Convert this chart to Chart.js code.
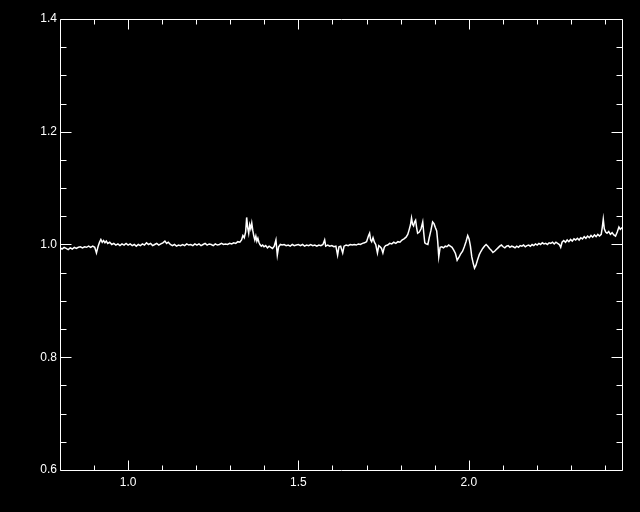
<!DOCTYPE html>
<html>
<head>
<meta charset="utf-8">
<script src="https://cdn.jsdelivr.net/npm/chart.js@4/dist/chart.umd.min.js"></script>
<style>
  html, body { margin: 0; padding: 0; background: #000; }
  #wrap { width: 640px; height: 512px; }
</style>
</head>
<body>
<div id="wrap"><canvas id="c" width="640" height="512"></canvas></div>
<script>
// ---- data ----
const wave = [
0.800,0.806,0.812,0.818,0.824,0.830,0.836,0.842,0.848,0.854,0.860,0.866,0.872,0.878,0.884,0.890,0.896,0.902,0.907,0.912,
0.916,0.920,0.924,0.928,0.932,0.936,0.940,0.946,0.952,0.958,0.964,0.970,0.976,0.982,0.988,0.994,1.000,1.006,1.012,1.018,
1.024,1.030,1.036,1.042,1.048,1.054,1.060,1.066,1.072,1.078,1.084,1.090,1.096,1.102,1.108,1.113,1.118,1.124,1.130,1.136,
1.142,1.148,1.154,1.160,1.166,1.172,1.178,1.184,1.190,1.196,1.202,1.208,1.214,1.220,1.226,1.232,1.238,1.244,1.250,1.256,
1.262,1.268,1.274,1.280,1.286,1.292,1.298,1.304,1.310,1.316,1.322,1.328,1.333,1.337,1.341,1.345,1.348,1.351,1.354,1.357,
1.360,1.363,1.366,1.369,1.372,1.375,1.378,1.381,1.384,1.387,1.391,1.395,1.399,1.404,1.409,1.414,1.419,1.424,1.429,1.434,
1.438,1.442,1.447,1.452,1.458,1.464,1.470,1.476,1.482,1.488,1.494,1.500,1.506,1.512,1.518,1.524,1.530,1.536,1.542,1.548,
1.554,1.560,1.566,1.572,1.577,1.580,1.586,1.592,1.598,1.604,1.610,1.615,1.619,1.624,1.630,1.634,1.640,1.646,1.652,1.658,
1.664,1.670,1.676,1.682,1.688,1.694,1.700,1.706,1.709,1.712,1.715,1.719,1.723,1.727,1.732,1.736,1.740,1.744,1.748,1.752,
1.756,1.762,1.768,1.774,1.780,1.786,1.792,1.798,1.804,1.810,1.816,1.821,1.825,1.829,1.832,1.835,1.838,1.841,1.844,1.847,
1.850,1.855,1.860,1.865,1.868,1.871,1.875,1.880,1.884,1.889,1.894,1.898,1.902,1.906,1.909,1.912,1.916,1.921,1.926,1.931,
1.936,1.941,1.946,1.951,1.956,1.961,1.966,1.971,1.976,1.982,1.987,1.992,1.997,2.001,2.005,2.009,2.013,2.017,2.021,2.026,
2.031,2.036,2.041,2.046,2.051,2.056,2.061,2.066,2.071,2.076,2.081,2.086,2.091,2.096,2.101,2.106,2.111,2.116,2.121,2.126,
2.131,2.136,2.141,2.146,2.151,2.156,2.161,2.166,2.171,2.176,2.181,2.186,2.191,2.196,2.201,2.206,2.211,2.216,2.221,2.226,
2.231,2.236,2.241,2.246,2.251,2.256,2.261,2.266,2.270,2.274,2.279,2.284,2.289,2.294,2.299,2.304,2.309,2.314,2.319,2.324,
2.329,2.334,2.339,2.344,2.349,2.354,2.359,2.364,2.369,2.374,2.379,2.384,2.389,2.392,2.395,2.398,2.402,2.406,2.411,2.416,
2.421,2.426,2.431,2.436,2.441,2.445,2.450
];
const flux = [
0.994,0.992,0.995,0.993,0.991,0.994,0.992,0.995,0.993,0.995,0.996,0.994,0.996,0.995,0.997,0.995,0.997,0.995,0.985,0.997,
1.004,1.009,1.004,1.007,1.003,1.006,1.002,1.004,1.000,1.002,0.999,1.001,0.998,1.001,0.999,1.002,0.999,1.001,0.998,1.000,
0.997,1.000,0.998,1.001,0.999,1.003,1.000,1.002,0.998,1.000,1.002,0.999,1.001,1.003,1.006,1.002,1.004,1.000,0.998,1.000,
0.997,0.999,0.998,1.000,0.998,1.001,0.999,1.000,0.998,1.001,0.999,1.001,0.998,1.000,1.002,0.999,1.001,1.000,0.998,1.001,
0.999,1.000,1.002,1.000,1.001,1.000,1.002,1.001,1.003,1.002,1.005,1.004,1.008,1.016,1.012,1.022,1.048,1.030,1.020,1.035,
1.028,1.038,1.025,1.015,1.008,1.015,1.006,1.011,1.004,1.000,0.997,0.999,0.996,0.998,0.994,0.997,0.995,0.993,0.997,1.008,
0.981,0.996,1.000,0.999,1.000,0.998,0.999,0.997,1.000,0.998,0.999,1.000,0.998,1.000,0.997,0.999,0.998,1.000,0.998,0.999,
0.997,0.999,0.998,1.000,1.008,0.997,0.999,0.997,0.998,0.996,0.997,0.981,0.996,0.997,0.985,0.997,0.999,0.998,1.000,0.999,
1.000,0.999,1.001,1.000,1.002,1.003,1.005,1.016,1.020,1.008,1.005,1.012,1.004,1.000,0.985,0.998,0.996,0.993,0.985,0.995,
0.998,0.999,1.002,1.001,1.004,1.002,1.005,1.004,1.008,1.010,1.013,1.018,1.026,1.035,1.047,1.036,1.033,1.040,1.043,1.030,
1.020,1.022,1.028,1.040,1.020,1.003,1.001,1.000,1.012,1.025,1.040,1.037,1.030,1.024,1.005,0.978,0.995,0.996,0.994,0.997,
0.996,0.999,0.997,0.995,0.990,0.984,0.972,0.977,0.983,0.988,0.996,1.005,1.016,1.010,0.997,0.978,0.967,0.958,0.963,0.973,
0.982,0.988,0.993,0.997,1.000,0.997,0.993,0.990,0.986,0.988,0.991,0.994,0.997,0.999,0.996,0.994,0.997,0.998,0.995,0.997,
0.996,0.994,0.997,0.995,0.998,0.997,0.999,0.996,0.998,0.999,0.997,1.000,0.998,1.001,0.999,1.002,1.000,1.003,1.001,1.002,
1.000,1.003,1.002,1.004,1.001,1.004,1.002,1.000,0.995,1.004,1.007,1.004,1.008,1.005,1.009,1.006,1.010,1.008,1.011,1.008,
1.012,1.010,1.014,1.011,1.015,1.012,1.016,1.013,1.017,1.014,1.018,1.015,1.018,1.030,1.045,1.028,1.022,1.020,1.023,1.018,
1.021,1.017,1.015,1.022,1.031,1.027,1.030
];
const xRange = [0.8, 2.45];
const yRange = [0.6, 1.4];
const xMajorTicks = [1.0, 1.5, 2.0];
const xMinorTicks = [0.9, 1.1, 1.2, 1.3, 1.4, 1.6, 1.7, 1.8, 1.9, 2.1, 2.2, 2.3, 2.4];
const yMajorTicks = [0.6, 0.8, 1.0, 1.2, 1.4];
const yMinorTicks = [0.65, 0.7, 0.75, 0.85, 0.9, 0.95, 1.05, 1.1, 1.15, 1.25, 1.3, 1.35];

const points = wave.map((w, i) => ({ x: w, y: flux[i] }));

const framePlugin = {
  id: 'frame',
  afterDatasetsDraw(chart) {
    const { ctx, chartArea: a, scales } = chart;
    const sx = scales.x, sy = scales.y;
    const L = Math.round(a.left) + 0.5, R = Math.round(a.right) + 0.5;
    const T = Math.round(a.top) + 0.5, B = Math.round(a.bottom) + 0.5;
    ctx.save();
    ctx.strokeStyle = '#fff';
    ctx.lineWidth = 1;
    ctx.beginPath();
    ctx.rect(L, T, R - L, B - T);
    const xt = (v, len) => {
      const p = Math.round(sx.getPixelForValue(v)) + 0.5;
      ctx.moveTo(p, B); ctx.lineTo(p, B - len);
      ctx.moveTo(p, T); ctx.lineTo(p, T + len);
    };
    const yt = (v, len) => {
      const p = Math.round(sy.getPixelForValue(v)) + 0.5;
      ctx.moveTo(L, p); ctx.lineTo(L + len, p);
      ctx.moveTo(R, p); ctx.lineTo(R - len, p);
    };
    xMajorTicks.forEach(v => xt(v, 10));
    xMinorTicks.forEach(v => xt(v, 5));
    yMajorTicks.forEach(v => yt(v, 11));
    yMinorTicks.forEach(v => yt(v, 6));
    ctx.stroke();
    ctx.restore();
  }
};

new Chart(document.getElementById('c'), {
  type: 'line',
  data: {
    datasets: [{
      data: points,
      borderColor: '#ffffff',
      borderWidth: 1.5,
      pointRadius: 0,
      tension: 0,
      fill: false
    }]
  },
  options: {
    responsive: false,
    animation: false,
    devicePixelRatio: 1,
    layout: { padding: { left: 0, top: 19, right: 18, bottom: 0 } },
    plugins: { legend: { display: false }, tooltip: { enabled: false } },
    scales: {
      x: {
        type: 'linear',
        min: xRange[0], max: xRange[1],
        grid: { display: false, drawTicks: false },
        border: { display: false },
        afterBuildTicks: s => { s.ticks = xMajorTicks.map(v => ({ value: v })); },
        afterFit: s => { s.height = 42; },
        ticks: {
          color: '#fff',
          padding: 5,
          maxRotation: 0,
          font: { family: 'Liberation Sans, Arial, sans-serif', size: 12 },
          callback: v => Number(v).toFixed(1)
        }
      },
      y: {
        type: 'linear',
        min: yRange[0], max: yRange[1],
        grid: { display: false, drawTicks: false },
        border: { display: false },
        afterBuildTicks: s => { s.ticks = yMajorTicks.map(v => ({ value: v })); },
        afterFit: s => { s.width = 60; },
        ticks: {
          color: '#fff',
          padding: 3,
          font: { family: 'Liberation Sans, Arial, sans-serif', size: 12 },
          callback: v => Number(v).toFixed(1)
        }
      }
    }
  },
  plugins: [framePlugin]
});
</script>
</body>
</html>
